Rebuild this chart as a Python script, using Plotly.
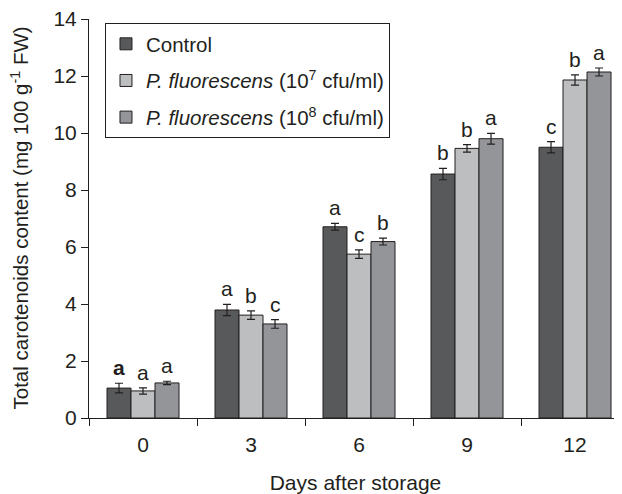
import plotly.graph_objects as go

days = ["0", "3", "6", "9", "12"]
series_names = [
    "Control",
    "<i>P. fluorescens</i> (10<sup>7</sup> cfu/ml)",
    "<i>P. fluorescens</i> (10<sup>8</sup> cfu/ml)",
]
control = [1.05, 3.79, 6.71, 8.56, 9.50]
control_err = [0.17, 0.20, 0.12, 0.20, 0.20]
p7 = [0.95, 3.61, 5.75, 9.46, 11.86]
p7_err = [0.11, 0.15, 0.15, 0.13, 0.18]
p8 = [1.23, 3.30, 6.19, 9.80, 12.14]
p8_err = [0.06, 0.15, 0.12, 0.19, 0.14]
letters_control = ["<b>a</b>", "a", "a", "b", "c"]
letters_p7 = ["a", "b", "c", "b", "b"]
letters_p8 = ["a", "c", "b", "a", "a"]
y_title = "Total carotenoids content (mg 100 g<sup>-1</sup> FW)"
x_title = "Days after storage"

colors = ["#58595b", "#bcbec0", "#939598"]
FONT = "Liberation Sans, Arial, sans-serif"
FS = 21

fig = go.Figure()
all_vals = [control, p7, p8]
all_errs = [control_err, p7_err, p8_err]
all_letters = [letters_control, letters_p7, letters_p8]
for i in range(3):
    fig.add_trace(go.Bar(
        x=days, y=all_vals[i], name=series_names[i],
        marker=dict(color=colors[i], line=dict(color="#231f20", width=1)),
        error_y=dict(type="data", array=all_errs[i], color="#231f20", thickness=1.2, width=4),
        legendgroup=str(i),
    ))

offsets = [-24, 0, 24]
for i in range(3):
    for j, d in enumerate(days):
        fig.add_annotation(
            x=j, y=all_vals[i][j] + all_errs[i][j], text=all_letters[i][j],
            xref="x", yref="y", showarrow=False, yanchor="bottom",
            xshift=offsets[i], yshift=2,
            font=dict(family=FONT, size=21, color="#231f20"),
        )

# y-axis title as rotated text
fig.add_annotation(
    x=0, y=0.5, xref="paper", yref="paper", text=y_title, textangle=-90,
    showarrow=False, xanchor="center", yanchor="middle", xshift=-70,
    font=dict(family=FONT, size=20.5, color="#231f20"),
)

fig.update_layout(
    width=614, height=486,
    margin=dict(l=81, r=0, t=11, b=76),
    paper_bgcolor="white", plot_bgcolor="white",
    barmode="group", bargap=1/3, bargroupgap=0,
    font=dict(family=FONT, size=FS, color="#231f20"),
    showlegend=True,
    legend=dict(
        x=0.03, y=0.99, xanchor="left", yanchor="top",
        bordercolor="#231f20", borderwidth=1, bgcolor="white",
        font=dict(family=FONT, size=20.5, color="#231f20"),
        traceorder="grouped", tracegroupgap=7,
    ),
    xaxis=dict(
        type="category", range=[-0.5, 4.435], automargin=False,
        showline=True, linecolor="#231f20", linewidth=1,
        ticks="outside", tickson="boundaries", ticklen=7, tickcolor="#231f20",
        ticklabelstandoff=8,
        tickfont=dict(size=FS), showgrid=False, zeroline=False,
        title=dict(text=x_title, font=dict(size=FS), standoff=20),
    ),
    yaxis=dict(
        range=[0, 14], dtick=2, automargin=False, ticklabeloverflow="allow",
        showline=True, linecolor="#231f20", linewidth=1,
        ticks="outside", ticklen=7, tickcolor="#231f20",
        tickfont=dict(size=FS), showgrid=False, zeroline=False,
    ),
)

fig.write_html("out.html")
